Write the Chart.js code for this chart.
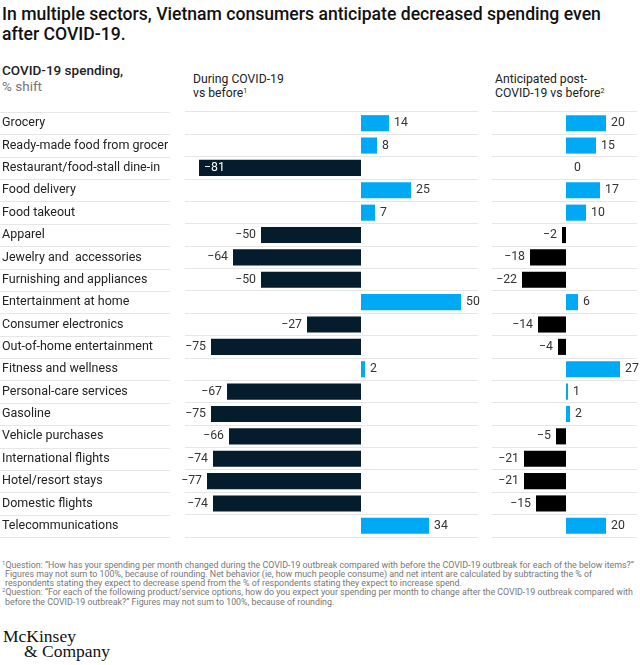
<!DOCTYPE html>
<html>
<head>
<meta charset="utf-8">
<script src="https://cdn.jsdelivr.net/npm/chart.js@4"></script>
<style>
    body { margin: 0; background: #fff; }
    #page {
        position: relative;
        width: 640px;
        height: 665px;
        overflow: hidden;
        font-family: Roboto, "Liberation Sans", sans-serif;
        color: #222;
    }
    .txt { position: absolute; white-space: nowrap; }
    #title { left: 2px; top: 4px; font-size: 17.6px; line-height: 20px; font-weight: 500; color: #111; }
    #unit { left: 2px; top: 63px; font-size: 13.5px; line-height: 15.5px; font-weight: 500; }
    #unit span { font-weight: 400; color: #777; }
    .head { font-size: 12.2px; line-height: 14px; color: #222; }
    #head-during { left: 193px; top: 72px; }
    #head-post { left: 495px; top: 72px; }
    sup { font-size: 7px; line-height: 0; vertical-align: 4px; }
    #notes { left: 2px; top: 560.5px; font-size: 8.85px; line-height: 9.3px; color: #777; }
    #notes .in { padding-left: 3px; }
    #notes sup { font-size: 6px; vertical-align: 3px; }
    #logo { left: 3px; top: 629px; font-family: "Liberation Serif", "DejaVu Serif", serif; font-size: 17.5px; line-height: 15px; color: #111; }
    #logo .co { padding-left: 21px; }
    canvas { position: absolute; top: 100px; }
    #during-chart { left: 0; }
    #post-chart { left: 480px; }
</style>
</head>
<body>
<div id="page">
    <div class="txt" id="title">In multiple sectors, Vietnam consumers anticipate decreased spending even<br>after COVID-19.</div>
    <div class="txt" id="unit">COVID-19 spending,<br><span>% shift</span></div>
    <div class="txt head" id="head-during">During COVID-19<br>vs before<sup>1</sup></div>
    <div class="txt head" id="head-post">Anticipated post-<br>COVID-19 vs before<sup>2</sup></div>

    <canvas id="during-chart" width="480" height="449"></canvas>
    <canvas id="post-chart" width="160" height="449"></canvas>

    <div class="txt" id="notes">
        <div><sup>1</sup>Question: “How has your spending per month changed during the COVID-19 outbreak compared with before the COVID-19 outbreak for each of the below items?”</div>
        <div class="in">Figures may not sum to 100%, because of rounding. Net behavior (ie, how much people consume) and net intent are calculated by subtracting the % of</div>
        <div class="in">respondents stating they expect to decrease spend from the % of respondents stating they expect to increase spend.</div>
        <div><sup>2</sup>Question: “For each of the following product/service options, how do you expect your spending per month to change after the COVID-19 outbreak compared with</div>
        <div class="in">before the COVID-19 outbreak?” Figures may not sum to 100%, because of rounding.</div>
    </div>
    <div class="txt" id="logo">McKinsey<br><span class="co">&amp; Company</span></div>
</div>

<script>
    const categories = [
        'Grocery', 'Ready-made food from grocer', 'Restaurant/food-stall dine-in', 'Food delivery',
        'Food takeout', 'Apparel', 'Jewelry and  accessories', 'Furnishing and appliances',
        'Entertainment at home', 'Consumer electronics', 'Out-of-home entertainment',
        'Fitness and wellness', 'Personal-care services', 'Gasoline', 'Vehicle purchases',
        'International flights', 'Hotel/resort stays', 'Domestic flights', 'Telecommunications'
    ];
    // % shift during COVID-19 vs before
    const duringValues = [14, 8, -81, 25, 7, -50, -64, -50, 50, -27, -75, 2, -67, -75, -66, -74, -77, -74, 34];
    // anticipated % shift post-COVID-19 vs before
    const postValues = [20, 15, 0, 17, 10, -2, -18, -22, 6, -14, -4, 27, 1, 2, -5, -21, -21, -15, 20];

    const blue = '#00a9f4';
    const navy = '#051c2c';
    const gridColor = '#e6e6e6';
    const font = 'Roboto, "Liberation Sans", sans-serif';

    // grid lines under the category names, to the left of the plot
    const labelGridPlugin = {
        id: 'labelGrid',
        beforeDatasetsDraw(chart) {
            const yScale = chart.scales.y;
            const half = (yScale.getPixelForValue(1) - yScale.getPixelForValue(0)) / 2;
            const ctx = chart.ctx;
            ctx.save();
            ctx.strokeStyle = gridColor;
            ctx.lineWidth = 1;
            for (let i = 0; i <= categories.length; i++) {
                const y = Math.round(yScale.getPixelForValue(i) - half) + 0.5;
                ctx.beginPath();
                ctx.moveTo(0, y);
                ctx.lineTo(170, y);
                ctx.stroke();
            }
            ctx.restore();
        }
    };

    const valueLabelPlugin = {
        id: 'valueLabels',
        afterDatasetsDraw(chart) {
            const ctx = chart.ctx;
            const values = chart.data.datasets[0].data;
            const bars = chart.getDatasetMeta(0).data;
            ctx.save();
            ctx.font = '12.3px ' + font;
            ctx.textBaseline = 'middle';
            bars.forEach(function (bar, i) {
                const v = values[i];
                const text = v < 0 ? '\u2212' + Math.abs(v) : String(v);
                if (v >= 0) {
                    ctx.textAlign = 'left';
                    ctx.fillStyle = '#333';
                    ctx.fillText(text, bar.x + (v === 0 ? 8 : 5), bar.y);
                } else if (bar.x < chart.chartArea.left + 20) {
                    // no room on the left, put it inside the bar
                    ctx.textAlign = 'left';
                    ctx.fillStyle = '#fff';
                    ctx.fillText(text, bar.x + 5, bar.y);
                } else {
                    ctx.textAlign = 'right';
                    ctx.fillStyle = '#333';
                    ctx.fillText(text, bar.x - 5, bar.y);
                }
            });
            ctx.restore();
        }
    };

    function makeChart(canvasId, values, negColor, xMin, xMax, showLabels, padding) {
        return new Chart(document.getElementById(canvasId), {
            type: 'bar',
            data: {
                labels: categories,
                datasets: [{
                    data: values,
                    backgroundColor: values.map(v => v < 0 ? negColor : blue),
                    borderWidth: 0,
                    barPercentage: 0.72,
                    categoryPercentage: 1
                }]
            },
            options: {
                indexAxis: 'y',
                responsive: false,
                animation: false,
                layout: { padding: padding },
                plugins: {
                    legend: { display: false },
                    tooltip: { enabled: false }
                },
                scales: {
                    x: { display: false, min: xMin, max: xMax },
                    y: {
                        grid: { color: gridColor, drawTicks: false },
                        border: { display: false },
                        ticks: {
                            display: showLabels,
                            crossAlign: 'far',
                            color: '#222',
                            padding: 0,
                            font: { family: font, size: 12.5 }
                        },
                        afterFit: function (scale) {
                            scale.width = showLabels ? 183 : 0;
                        }
                    }
                }
            },
            plugins: showLabels ? [labelGridPlugin, valueLabelPlugin] : [valueLabelPlugin]
        });
    }

    makeChart('during-chart', duringValues, navy, -88, 58.5, true, { left: 2, right: 2, top: 12, bottom: 12 });
    makeChart('post-chart', postValues, '#000', -37, 35.5, false, { left: 12, right: 3, top: 12, bottom: 12 });
</script>
</body>
</html>
